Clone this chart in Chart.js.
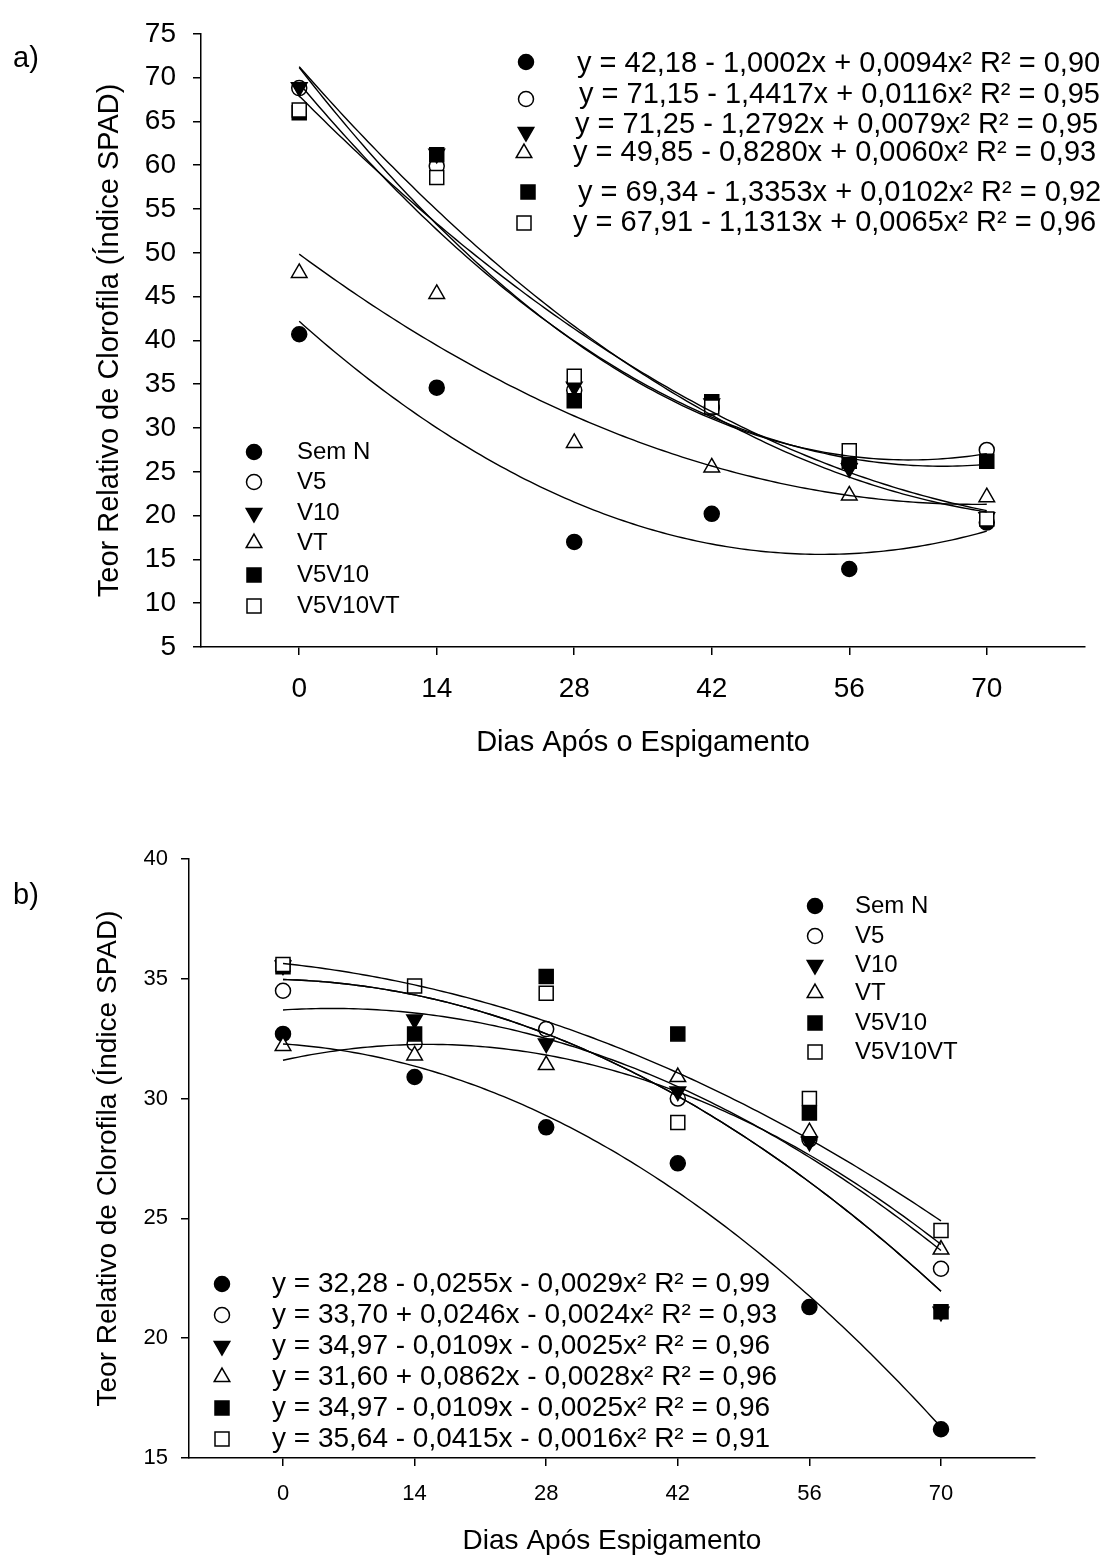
<!DOCTYPE html>
<html>
<head>
<meta charset="utf-8">
<script src="https://cdn.jsdelivr.net/npm/chart.js@4.4.1/dist/chart.umd.min.js"></script>
<style>
  html, body { margin: 0; padding: 0; background: #fff; }
  .panel { position: absolute; left: 0; width: 1112px; height: 779px; }
  #pa { top: 0; }
  #pb { top: 779px; }
</style>
</head>
<body>
<div class="panel" id="pa"><canvas id="chartA" width="1112" height="779"></canvas></div>
<div class="panel" id="pb"><canvas id="chartB" width="1112" height="779"></canvas></div>
<script>
// days after silking (x) and treatments
const days = [0, 14, 28, 42, 56, 70];
const treatments = ['Sem N', 'V5', 'V10', 'VT', 'V5V10', 'V5V10VT'];

// panel a) observed SPAD values
const spadA_semN    = [40.7, 34.6, 17.0, 20.2, 13.9, 19.2];
const spadA_v5      = [68.8, 59.9, 34.3, 32.3, 26.0, 27.5];
const spadA_v10     = [68.9, 61.3, 34.7, 32.8, 25.4, 19.8];
const spadA_vt      = [47.7, 45.3, 28.3, 25.5, 22.3, 22.1];
const spadA_v5v10   = [66.0, 61.2, 33.1, 33.0, 26.2, 26.2];
const spadA_v5v10vt = [66.3, 58.6, 35.9, 32.4, 27.4, 19.6];

// panel a) fitted quadratic coefficients [a, b, c] -> a + b x + c x²
const fitA_semN    = [42.18, -1.0002, 0.0094];
const fitA_v5      = [71.15, -1.4417, 0.0116];
const fitA_v10     = [71.25, -1.2792, 0.0079];
const fitA_vt      = [49.85, -0.8280, 0.0060];
const fitA_v5v10   = [69.34, -1.3353, 0.0102];
const fitA_v5v10vt = [67.91, -1.1313, 0.0065];

const eqA = [
  'y = 42,18 - 1,0002x + 0,0094x² R² = 0,90',
  'y = 71,15 - 1,4417x + 0,0116x² R² = 0,95',
  'y = 71,25 - 1,2792x + 0,0079x² R² = 0,95',
  'y = 49,85 - 0,8280x + 0,0060x² R² = 0,93',
  'y = 69,34 - 1,3353x + 0,0102x² R² = 0,92',
  'y = 67,91 - 1,1313x + 0,0065x² R² = 0,96'
];

// panel b) observed SPAD values
const spadB_semN    = [32.7, 30.9, 28.8, 27.3, 21.3, 16.2];
const spadB_v5      = [34.5, 32.3, 32.9, 30.0, 28.3, 22.9];
const spadB_v10     = [35.55, 33.3, 32.3, 30.3, 28.2, 21.1];
const spadB_vt      = [32.2, 31.8, 31.4, 30.9, 28.6, 23.7];
const spadB_v5v10   = [35.5, 32.7, 35.1, 32.7, 29.4, 21.1];
const spadB_v5v10vt = [35.6, 34.7, 34.4, 29.0, 30.0, 24.5];

const fitB_semN    = [32.28, -0.0255, -0.0029];
const fitB_v5      = [33.70, 0.0246, -0.0024];
const fitB_v10     = [34.97, -0.0109, -0.0025];
const fitB_vt      = [31.60, 0.0862, -0.0028];
const fitB_v5v10   = [34.97, -0.0109, -0.0025];
const fitB_v5v10vt = [35.64, -0.0415, -0.0016];

const eqB = [
  'y = 32,28 - 0,0255x - 0,0029x² R² = 0,99',
  'y = 33,70 + 0,0246x - 0,0024x² R² = 0,93',
  'y = 34,97 - 0,0109x - 0,0025x² R² = 0,96',
  'y = 31,60 + 0,0862x - 0,0028x² R² = 0,96',
  'y = 34,97 - 0,0109x - 0,0025x² R² = 0,96',
  'y = 35,64 - 0,0415x - 0,0016x² R² = 0,91'
];

const yTicksA = [5, 75, 5];   // min, max, step
const yTicksB = [15, 40, 5];

const FONT = "'Liberation Sans', Arial, sans-serif";

// marker look per treatment
const markers = [
  { style: 'circle',   rotation: 0,   radius: 7.5, fill: '#000' },
  { style: 'circle',   rotation: 0,   radius: 7.5, fill: '#fff' },
  { style: 'triangle', rotation: 180, radius: 9,   fill: '#000' },
  { style: 'triangle', rotation: 0,   radius: 9,   fill: '#fff' },
  { style: 'rect',     rotation: 0,   radius: 9.9, fill: '#000' },
  { style: 'rect',     rotation: 0,   radius: 9.9, fill: '#fff' }
];

function fitCurve(coef) {
  const pts = [];
  for (let x = 0; x <= 70; x += 0.5) {
    pts.push({ x: x, y: coef[0] + coef[1] * x + coef[2] * x * x });
  }
  return pts;
}

function buildDatasets(series, fits) {
  const sets = [];
  fits.forEach((f, i) => {
    sets.push({
      label: 'fit ' + treatments[i],
      data: fitCurve(f),
      showLine: true,
      pointRadius: 0,
      borderColor: '#000',
      borderWidth: 1.4,
      tension: 0,
      order: i
    });
  });
  series.forEach((vals, i) => {
    const m = markers[i];
    sets.push({
      label: treatments[i],
      data: days.map((d, k) => ({ x: d, y: vals[k] })),
      showLine: false,
      pointStyle: m.style,
      rotation: m.rotation,
      pointRadius: m.radius,
      pointHoverRadius: m.radius,
      backgroundColor: m.fill,
      borderColor: '#000',
      borderWidth: 1.5,
      order: 20 - i
    });
  });
  return sets;
}

const panelText = {
  id: 'panelText',
  afterDraw(chart, args, opts) {
    const ctx = chart.ctx;
    ctx.save();
    ctx.textBaseline = 'middle';
    ctx.textAlign = 'left';
    ctx.fillStyle = '#000';
    ctx.font = '29px ' + FONT;
    ctx.fillText(opts.label, opts.labelX, opts.labelY);
    opts.groups.forEach(g => {
      g.rows.forEach((txt, i) => {
        const m = markers[i];
        ctx.fillStyle = m.fill;
        ctx.strokeStyle = '#000';
        ctx.lineWidth = 1.5;
        Chart.helpers.drawPoint(ctx, {
          pointStyle: m.style, rotation: m.rotation, radius: m.radius, borderWidth: 1.5
        }, g.symX[i], g.symY[i]);
        ctx.fillStyle = '#000';
        ctx.font = g.font;
        ctx.fillText(txt, g.textX[i], g.textY[i]);
      });
    });
    ctx.restore();
  }
};

function makeChart(id, p) {
  return new Chart(document.getElementById(id), {
    type: 'scatter',
    data: { datasets: buildDatasets(p.series, p.fits) },
    options: {
      responsive: false,
      animation: false,
      layout: { padding: p.padding },
      plugins: {
        legend: { display: false },
        tooltip: { enabled: false },
        panelText: p.text
      },
      scales: {
        x: {
          type: 'linear',
          min: -10,
          max: 80,
          afterBuildTicks: s => { s.ticks = days.map(v => ({ value: v })); },
          afterFit: s => { s.height = p.xHeight; },
          ticks: { font: { family: FONT, size: p.tickSize }, color: '#000', padding: p.xTickPad, maxRotation: 0, autoSkip: false },
          grid: { drawOnChartArea: false, drawTicks: true, tickLength: 8, color: '#000', lineWidth: 1.5 },
          border: { color: '#000', width: 1.5 },
          title: { display: true, text: p.xTitle, color: '#000', font: { family: FONT, size: p.xTitleSize }, padding: { top: 0, bottom: p.xTitlePad } }
        },
        y: {
          min: p.yTicks[0],
          max: p.yTicks[1],
          afterFit: s => { s.width = p.yWidth; },
          ticks: { stepSize: p.yTicks[2], font: { family: FONT, size: p.tickSize }, color: '#000', padding: p.yTickPad },
          grid: { drawOnChartArea: false, drawTicks: true, tickLength: 8, color: '#000', lineWidth: 1.5 },
          border: { color: '#000', width: 1.5 },
          title: { display: true, text: 'Teor Relativo de Clorofila (Índice SPAD)', color: '#000', font: { family: FONT, size: p.yTitleSize }, padding: { top: p.yTitlePad, bottom: 0 } }
        }
      }
    },
    plugins: [panelText]
  });
}

makeChart('chartA', {
  series: [spadA_semN, spadA_v5, spadA_v10, spadA_vt, spadA_v5v10, spadA_v5v10vt],
  fits: [fitA_semN, fitA_v5, fitA_v10, fitA_vt, fitA_v5v10, fitA_v5v10vt],
  padding: { top: 24, right: 27, left: 0, bottom: 0 },
  xHeight: 132, yWidth: 201,
  tickSize: 28, xTickPad: 17, yTickPad: 17,
  xTitle: 'Dias Após o Espigamento', xTitleSize: 29, xTitlePad: 19,
  yTitleSize: 29, yTitlePad: 93, yTicks: yTicksA,
  text: {
    label: 'a)', labelX: 13, labelY: 59,
    groups: [
      { rows: eqA, font: '29px ' + FONT,
        symX: [526, 526, 526, 524, 528, 524], symY: [62, 99, 132, 153, 192, 223],
        textX: [577, 579, 575, 573, 578, 573], textY: [64, 95, 125, 153, 193, 223] },
      { rows: treatments, font: '24px ' + FONT,
        symX: [254, 254, 254, 254, 254, 254], symY: [452, 482, 513, 543, 575, 606],
        textX: [297, 297, 297, 297, 297, 297], textY: [452, 482, 513, 543, 575, 606] }
    ]
  }
});

makeChart('chartB', {
  series: [spadB_semN, spadB_v5, spadB_v10, spadB_vt, spadB_v5v10, spadB_v5v10vt],
  fits: [fitB_semN, fitB_v5, fitB_v10, fitB_vt, fitB_v5v10, fitB_v5v10vt],
  padding: { top: 80, right: 77, left: 0, bottom: 0 },
  xHeight: 100, yWidth: 189,
  tickSize: 22, xTickPad: 15, yTickPad: 13,
  xTitle: 'Dias Após Espigamento', xTitleSize: 28, xTitlePad: 0,
  yTitleSize: 28, yTitlePad: 91, yTicks: yTicksB,
  text: {
    label: 'b)', labelX: 13, labelY: 117,
    groups: [
      { rows: treatments, font: '24px ' + FONT,
        symX: [815, 815, 815, 815, 815, 815], symY: [127, 157, 186, 214, 244, 273],
        textX: [855, 855, 855, 855, 855, 855], textY: [127, 157, 186, 214, 244, 273] },
      { rows: eqB, font: '28px ' + FONT,
        symX: [222, 222, 222, 222, 222, 222], symY: [505, 536, 567, 598, 629, 660],
        textX: [272, 272, 272, 272, 272, 272], textY: [505, 536, 567, 598, 629, 660] }
    ]
  }
});
</script>
</body>
</html>
